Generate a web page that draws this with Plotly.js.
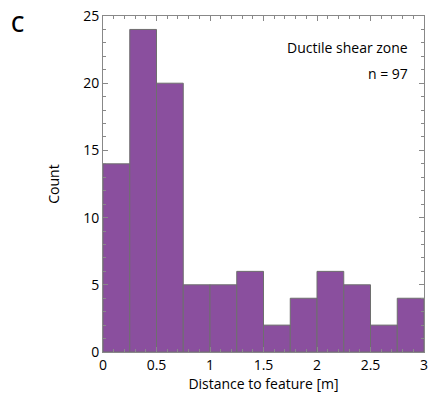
<!DOCTYPE html>
<html><head><meta charset="utf-8">
<script src="https://cdn.plot.ly/plotly-3.0.1.min.js"></script>
<style>body{margin:0;background:#fff}#c{width:435px;height:404px}</style>
</head><body><div id="c"></div>
<script>
const binStarts = [0, 0.25, 0.5, 0.75, 1, 1.25, 1.5, 1.75, 2, 2.25, 2.5, 2.75];
const binWidth = 0.25;
const counts = [14, 24, 20, 5, 5, 6, 2, 4, 6, 5, 2, 4];
const xTicks = [0, 0.5, 1, 1.5, 2, 2.5, 3];
const xTickLabels = ['0', '0.5', '1', '1.5', '2', '2.5', '3'];
const yTicks = [0, 5, 10, 15, 20, 25];

const font = 'Open Sans, Noto Sans, sans-serif';
const trace = {
  type: 'bar',
  x: binStarts,
  y: counts,
  width: binStarts.map(() => binWidth),
  offset: 0,
  marker: {color: '#8a4f9e', line: {color: '#6e6e6e', width: 1}},
  hoverinfo: 'skip'
};
const axisCommon = {
  showgrid: false, zeroline: false, showline: true, linecolor: '#888', linewidth: 1,
  mirror: 'ticks', ticks: 'inside', ticklen: 5, tickcolor: '#888',
  tickfont: {family: font, size: 14, color: '#000'}
};
const layout = {
  width: 435, height: 404,
  margin: {l: 103, r: 11, t: 16, b: 52},
  paper_bgcolor: '#fff', plot_bgcolor: '#fff',
  showlegend: false,
  bargap: 0,
  xaxis: Object.assign({}, axisCommon, {
    range: [0, 3], tickvals: xTicks, ticktext: xTickLabels,
    minor: {ticks: 'inside', dtick: 0.1, ticklen: 3, tickcolor: '#888'},
    title: {text: 'Distance to feature [m]', font: {family: font, size: 14, color: '#000'}, standoff: 3}
  }),
  yaxis: Object.assign({}, axisCommon, {
    range: [0, 25], tickvals: yTicks,
    minor: {ticks: 'inside', dtick: 1, ticklen: 3, tickcolor: '#888'},
    title: {text: 'Count', font: {family: font, size: 14, color: '#000'}, standoff: 20}
  }),
  annotations: [
    {text: 'C', xref: 'paper', yref: 'paper', x: -0.265, y: 0.975, xanchor: 'center', yanchor: 'middle',
     showarrow: false, font: {family: font, size: 21, color: '#000', weight: 600}},
    {text: 'Ductile shear zone', xref: 'paper', yref: 'paper', x: 0.955, y: 0.907, xanchor: 'right', yanchor: 'middle',
     showarrow: false, font: {family: font, size: 14, color: '#000'}},
    {text: 'n = 97', xref: 'paper', yref: 'paper', x: 0.955, y: 0.83, xanchor: 'right', yanchor: 'middle',
     showarrow: false, font: {family: font, size: 14, color: '#000'}}
  ]
};
Plotly.newPlot('c', [trace], layout, {displayModeBar: false, staticPlot: true});
</script></body></html>
